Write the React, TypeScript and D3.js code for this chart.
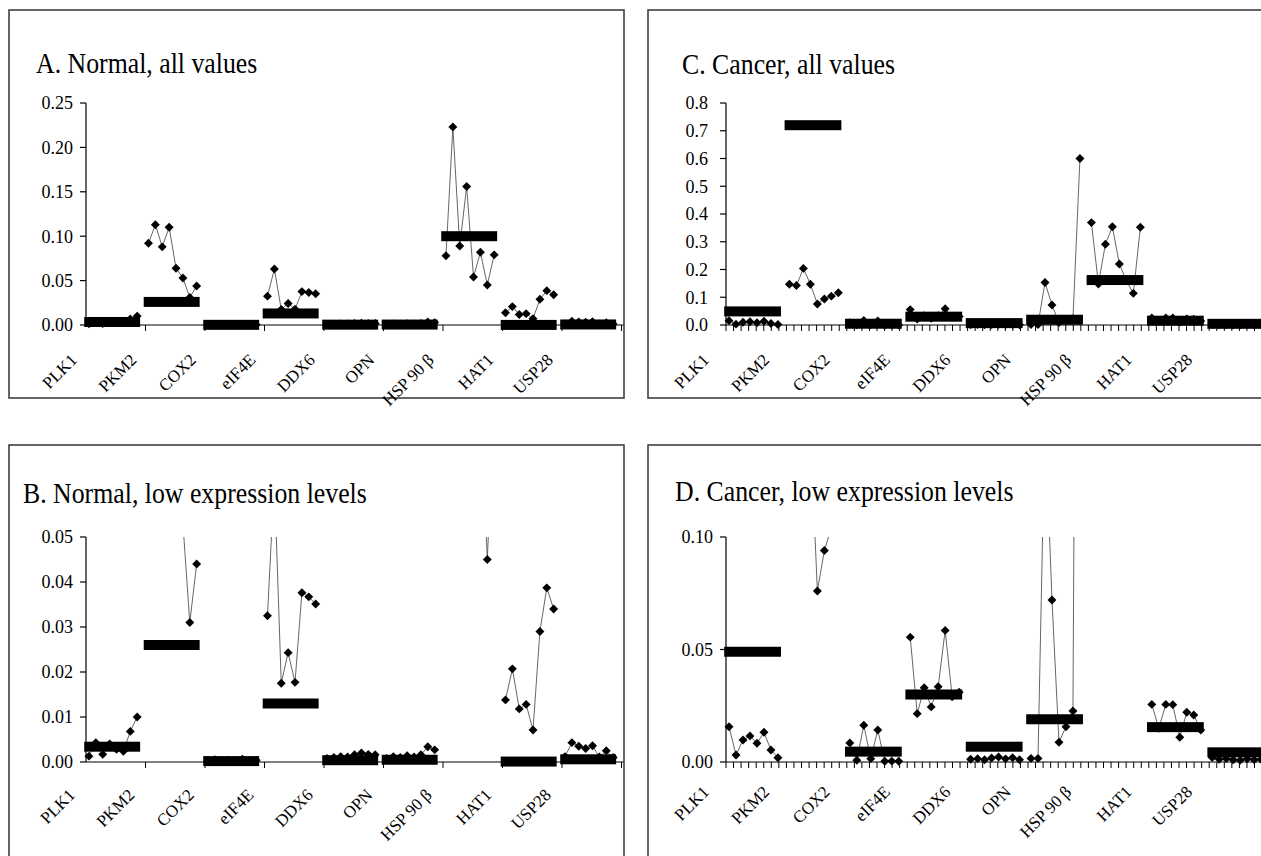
import React from "react";
import * as d3 from "d3";

const genes = ["PLK1", "PKM2", "COX2", "eIF4E", "DDX6", "OPN", "HSP 90 β", "HAT1", "USP28"];

// eight samples per gene, normal tissue
const normalSamples = [
  [0.0013, 0.0043, 0.0017, 0.004, 0.0028, 0.0024, 0.0068, 0.01],
  [0.092, 0.113, 0.088, 0.11, 0.064, 0.053, 0.031, 0.044],
  [0.0003, 0.0005, 0.0002, 0.0004, 0.0003, 0.0006, 0.0002, 0.0004],
  [0.0325, 0.063, 0.0175, 0.0243, 0.0177, 0.0376, 0.0367, 0.0351],
  [0.0008, 0.001, 0.0012, 0.0011, 0.0016, 0.002, 0.0017, 0.0016],
  [0.0008, 0.0012, 0.001, 0.0014, 0.0011, 0.0016, 0.0034, 0.0027],
  [0.078, 0.223, 0.089, 0.156, 0.054, 0.082, 0.045, 0.079],
  [0.0138, 0.0207, 0.0118, 0.0128, 0.0071, 0.029, 0.0387, 0.034],
  [0.0012, 0.0043, 0.0035, 0.003, 0.0036, 0.0011, 0.0025, 0.001],
];
const normalBars = [0.0034, 0.026, 0.0002, 0.013, 0.0004, 0.0005, 0.1, 0.0001, 0.0006];

// eight samples per gene, cancer tissue
const cancerSamples = [
  [0.0157, 0.0031, 0.0098, 0.0116, 0.0083, 0.0132, 0.0053, 0.0019],
  [0.147, 0.142, 0.204, 0.147, 0.076, 0.094, 0.104, 0.116],
  [0.0085, 0.0008, 0.0163, 0.0015, 0.0142, 0.0003, 0.0004, 0.0003],
  [0.0555, 0.0215, 0.033, 0.0245, 0.0335, 0.0585, 0.029, 0.031],
  [0.0012, 0.0015, 0.001, 0.0018, 0.0022, 0.0014, 0.0019, 0.001],
  [0.0016, 0.0016, 0.153, 0.072, 0.0088, 0.0157, 0.0227, 0.6],
  [0.369, 0.148, 0.291, 0.354, 0.22, 0.16, 0.114, 0.352],
  [0.0256, 0.015, 0.0256, 0.0255, 0.011, 0.0221, 0.0209, 0.0142],
  [0.002, 0.0012, 0.0015, 0.001, 0.0008, 0.0014, 0.001, 0.0012],
];
const cancerBars = [0.049, 0.72, 0.0046, 0.03, 0.0068, 0.019, 0.162, 0.0155, 0.0043];

const ticksA = [0, 0.05, 0.1, 0.15, 0.2, 0.25];
const ticksB = [0, 0.01, 0.02, 0.03, 0.04, 0.05];
const ticksC = [0, 0.1, 0.2, 0.3, 0.4, 0.5, 0.6, 0.7, 0.8];
const ticksD = [0, 0.05, 0.1];

const FONT = "'Liberation Serif', 'Times New Roman', serif";

const panels = [
  {
    key: "A", title: "A. Normal, all values", box: [9, 10, 615, 388], titleX: 36, titleY: 73,
    x0: 86, pitch: 59.5, yTop: 103, yBottom: 325, ticks: ticksA, fmt: ".2f", minor: false,
    samples: normalSamples, bars: normalBars, labelShift: -8, labelDy: 36, tickGap: 13,
  },
  {
    key: "B", title: "B. Normal, low expression levels", box: [9, 445, 615, 430], titleX: 23, titleY: 503,
    x0: 86, pitch: 59.5, yTop: 537, yBottom: 762, ticks: ticksB, fmt: ".2f", minor: false,
    samples: normalSamples, bars: normalBars, labelShift: -10, labelDy: 34, tickGap: 13,
  },
  {
    key: "C", title: "C. Cancer, all values", box: [648, 10, 640, 388], titleX: 682, titleY: 74,
    x0: 726, pitch: 60.4, yTop: 103, yBottom: 325, ticks: ticksC, fmt: ".1f", minor: true,
    samples: cancerSamples, bars: cancerBars, labelShift: -16, labelDy: 36, tickGap: 18,
  },
  {
    key: "D", title: "D. Cancer, low expression levels", box: [648, 445, 640, 430], titleX: 675, titleY: 501,
    x0: 726, pitch: 60.4, yTop: 537, yBottom: 762, ticks: ticksD, fmt: ".2f", minor: true,
    samples: cancerSamples, bars: cancerBars, labelShift: -16, labelDy: 31, tickGap: 13,
  },
];

function Panel({ p }: { p: any }) {
  const x = d3
    .scaleBand<string>()
    .domain(genes)
    .range([p.x0, p.x0 + genes.length * p.pitch]);
  const y = d3
    .scaleLinear()
    .domain([0, p.ticks[p.ticks.length - 1]])
    .range([p.yBottom, p.yTop]);
  // sample positions inside a gene group
  const inner = d3.scaleLinear().domain([0, 7]).range([0.05 * p.pitch, 0.86 * p.pitch]);
  const line = d3
    .line<number>()
    .x((_, i) => inner(i))
    .y((d) => y(d));
  const diamond = d3.symbol().type(d3.symbolSquare).size(40)() as string;
  const fmt = d3.format(p.fmt);
  const xEnd = p.minor ? 1300 : p.x0 + genes.length * p.pitch + 2;

  const tickXs = p.minor
    ? d3.range(genes.length * 8 + 1).map((i) => p.x0 + (i * p.pitch) / 8)
    : genes.map((g) => x(g) as number).slice(1).concat([p.x0 + genes.length * p.pitch]);

  const [bx, by, bw, bh] = p.box;

  return (
    <g>
      <rect x={bx} y={by} width={bw} height={bh} fill="none" stroke="#333" strokeWidth={1.5} />
      <g transform={`translate(${p.titleX},${p.titleY}) scale(0.86,1)`}>
        <text fontSize={30} fontFamily={FONT} fill="#000">
          {p.title}
        </text>
      </g>
      <clipPath id={"clip-" + p.key}>
        <rect x={p.x0 - 10} y={p.yTop} width={700} height={p.yBottom - p.yTop + 20} />
      </clipPath>

      {/* y axis */}
      <line x1={p.x0} x2={p.x0} y1={p.yTop} y2={p.yBottom} stroke="#000" strokeWidth={1.2} />
      {p.ticks.map((t: number) => (
        <g key={t}>
          <line x1={p.x0 - 6} x2={p.x0} y1={y(t)} y2={y(t)} stroke="#000" strokeWidth={1.2} />
          <text
            x={p.x0 - p.tickGap}
            y={y(t)}
            dy="0.35em"
            textAnchor="end"
            fontSize={18}
            fontFamily={FONT}
            fill="#000"
          >
            {fmt(t)}
          </text>
        </g>
      ))}

      {/* x axis */}
      <line x1={p.x0} x2={xEnd} y1={p.yBottom} y2={p.yBottom} stroke="#000" strokeWidth={1.2} />
      {tickXs.map((tx: number, i: number) => (
        <line key={i} x1={tx} x2={tx} y1={p.yBottom} y2={p.yBottom + 6} stroke="#000" strokeWidth={1} />
      ))}
      {genes.map((g) => {
        const lx = (x(g) as number) + p.labelShift;
        const ly = p.yBottom + p.labelDy;
        return (
          <text
            key={g}
            x={lx}
            y={ly}
            transform={`rotate(-45 ${lx} ${ly})`}
            textAnchor="end"
            fontSize={17}
            fontFamily={FONT}
            fill="#000"
          >
            {g}
          </text>
        );
      })}

      {/* samples and group levels */}
      <g clipPath={`url(#clip-${p.key})`}>
        {genes.map((g, gi) => (
          <g key={g} transform={`translate(${x(g)},0)`}>
            <path d={line(p.samples[gi]) as string} fill="none" stroke="#555" strokeWidth={0.9} />
            {p.samples[gi].map((v: number, k: number) => (
              <path
                key={k}
                d={diamond}
                transform={`translate(${inner(k)},${y(v)}) rotate(45)`}
                fill="#000"
              />
            ))}
            <rect
              x={-0.03 * p.pitch}
              width={0.94 * p.pitch}
              y={y(p.bars[gi]) - 5}
              height={10}
              fill="#000"
            />
          </g>
        ))}
      </g>
    </g>
  );
}

export default function App() {
  return (
    <svg
      width={1261}
      height={856}
      style={{ position: "absolute", left: 0, top: 0, background: "#fff" }}
    >
      {panels.map((p) => (
        <Panel key={p.key} p={p} />
      ))}
    </svg>
  );
}
